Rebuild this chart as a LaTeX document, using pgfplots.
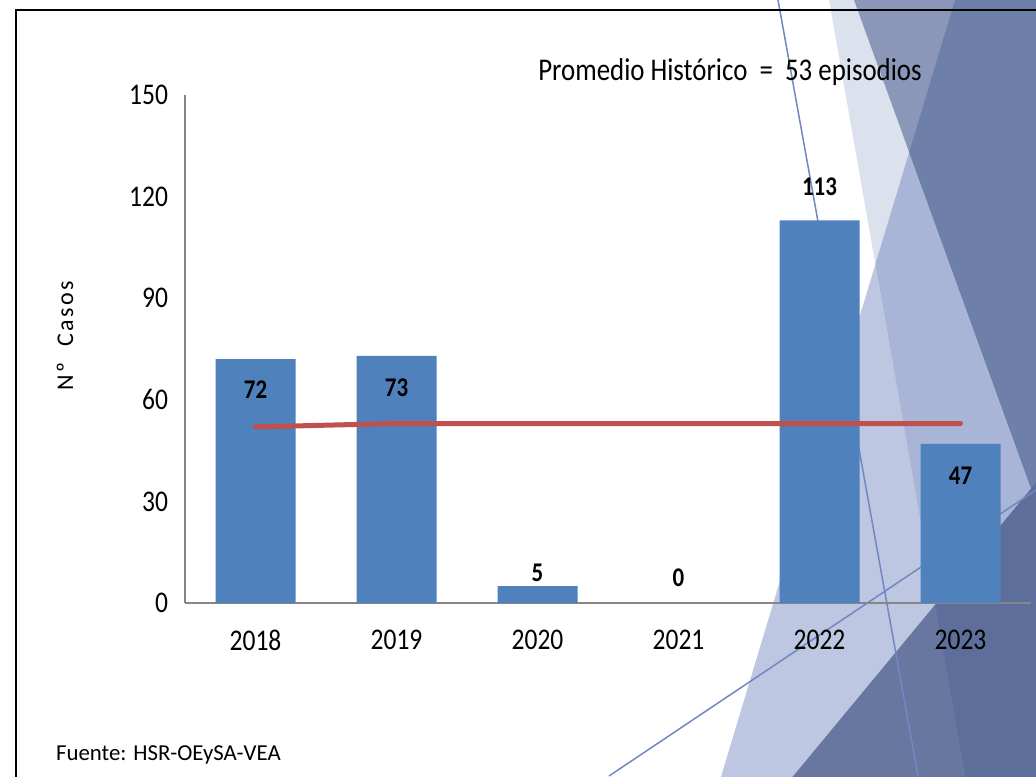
\documentclass[border=0pt]{standalone}
\usepackage{fontspec}
\setmainfont{Carlito}[FakeStretch=0.85]
\newfontfamily\plainfont{Carlito}
\usepackage{pgfplots}
\pgfplotsset{compat=1.18}

\definecolor{barblue}{HTML}{4F81BD}
\definecolor{avgred}{HTML}{C0504D}
\definecolor{axisgray}{HTML}{868686}
\definecolor{thinline}{HTML}{6F87C4}
\definecolor{facetA}{HTML}{DCE1EE}
\definecolor{facetB}{HTML}{BDC7E1}
\definecolor{facetAB}{HTML}{A8B5D6}
\definecolor{facetAC}{HTML}{8A97B8}
\definecolor{facetABC}{HTML}{6E7FAA}
\definecolor{facetD}{HTML}{6777A0}
\definecolor{facetAD}{HTML}{5E6E9A}

\pgfplotstableread{
x  y   ly
0  72  63
1  73  63.5
2  5   9
3  0   7.5
4  113 123
5  47  37.5
}\casos

\pgfplotstableread{
x  y
0  52
1  53
2  53
3  53
4  53
5  53
}\promedio

\begin{document}
\begin{tikzpicture}
\useasboundingbox (0,0) rectangle (518pt,388pt);
\fill[white] (0,0) rectangle (518pt,388pt);

% background of the slide, pixel coordinates (1px = 0.5pt, y downwards)
\begin{scope}[x=0.5pt,y=-0.5pt,shift={(0pt,388pt)}]
  \clip (0,0) rectangle (1036,776);
  \def\shA{(829,0) -- (1040,0) -- (1040,780) -- (966,780) -- cycle}
  \def\shB{(955,0) -- (1040,0) -- (1040,780) -- (720,780) -- cycle}
  \def\shC{(854,0) -- (1040,0) -- (1040,513) -- cycle}
  \def\shD{(790,780) -- (1040,478) -- (1040,780) -- cycle}
  \fill[facetB] \shB;
  \fill[facetA] \shA;
  \begin{scope}\clip \shA; \fill[facetAB] \shB; \end{scope}
  \fill[facetAC] \shC;
  \begin{scope}\clip \shC; \fill[facetABC] \shB; \end{scope}
  \fill[facetD] \shD;
  \begin{scope}\clip \shD; \fill[facetAD] \shA; \end{scope}
  \draw[thinline, line width=0.75pt] (778,0) -- (918,776);
  \draw[thinline, line width=0.75pt] (609,776) -- (1036,490);
  % frame of the chart area
  \draw[black, line width=1pt] (16,780) -- (16,10) -- (1040,10);
  % texts
  \node[font=\fontsize{15.8}{17}\selectfont] at (730,72) {Promedio Histórico\ \ =\ \ 53 episodios};
  \node[font=\plainfont\fontsize{11.4}{13}\selectfont, anchor=west] at (49,755) {Fuente: HSR-OEySA-VEA};
  \node[font=\plainfont\fontsize{12}{14}\selectfont\addfontfeature{LetterSpace=10}, rotate=90] at (65,336) {Nº\ \ Casos};
\end{scope}

\begin{axis}[
  at={(92.5pt,86.5pt)}, anchor=south west,
  scale only axis, width=423pt, height=254pt,
  xmin=-0.5, xmax=5.5, ymin=0, ymax=150,
  xtick={0,...,5},
  xticklabels={2018,2019,2020,2021,2022,2023},
  ytick={0,30,...,150},
  axis x line*=bottom, axis y line*=left,
  axis line style={axisgray, line width=0.6pt},
  major tick length=0pt,
  tick label style={font=\fontsize{15}{17}\selectfont},
  /pgf/number format/assume math mode=true,
  xticklabel style={yshift=-10pt},
  yticklabel style={xshift=-5pt},
  clip=false,
]
  \addplot[ybar, bar width=40pt, fill=barblue, draw=none] table[x=x, y=y] {\casos};
  \addplot[avgred, line width=2.5pt, line cap=round, mark=none] table[x=x, y=y] {\promedio};
  \addplot[draw=none, mark=none, point meta=explicit,
    nodes near coords={\pgfmathprintnumber{\pgfplotspointmeta}},
    every node near coord/.append style={anchor=center, font=\fontsize{13.5}{15}\selectfont\bfseries, black},
    /pgf/number format/assume math mode=true]
    table[x=x, y=ly, meta=y] {\casos};
\end{axis}
\end{tikzpicture}
\end{document}
